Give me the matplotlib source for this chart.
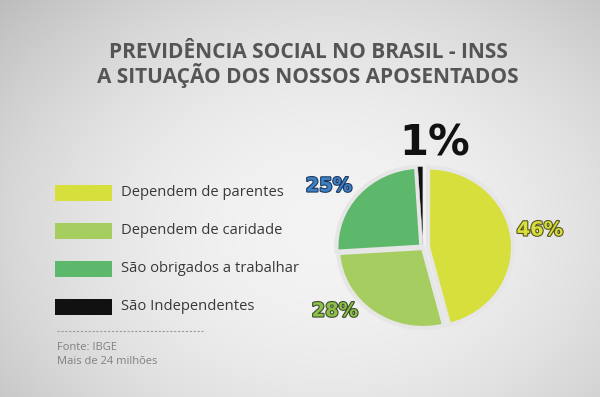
import numpy as np
import matplotlib
matplotlib.use("Agg")
import matplotlib.pyplot as plt
import matplotlib.patheffects as pe
from matplotlib.patches import Rectangle

# ---- data ----
title_lines = ["PREVIDÊNCIA SOCIAL NO BRASIL - INSS", "A SITUAÇÃO DOS NOSSOS APOSENTADOS"]
categories = ["Dependem de parentes", "Dependem de caridade", "São obrigados a trabalhar", "São Independentes"]
values = [46, 28, 25, 1]
pct_labels = ["46%", "28%", "25%", "1%"]
colors = ["#d6df3b", "#a5cd60", "#5eb86b", "#111111"]
footer = ["Fonte: IBGE", "Mais de 24 milhões"]

W, H = 600, 397
fig = plt.figure(figsize=(W / 100, H / 100), dpi=100)

# background axes in pixel coordinates
bg = fig.add_axes([0, 0, 1, 1])
bg.set_xlim(0, W)
bg.set_ylim(H, 0)
bg.axis("off")
yy, xx = np.mgrid[0:H, 0:W]
d = np.sqrt(((xx - 330) / 430) ** 2 + ((yy - 230) / 330) ** 2)
val = 0.955 - 0.20 * np.clip(d, 0, 1.3) ** 2
img = np.dstack([val, val, val])
bg.imshow(img, extent=(0, W, H, 0), aspect="auto", zorder=0)

# title
for i, t in enumerate(title_lines):
    bg.text(308, 53 + i * 22, t, ha="center", va="center", fontsize=15,
            fontweight="bold", family="Open Sans", color="#555555", zorder=2)

# legend
rows_y = [193, 231, 269, 307]
for c, lab, y in zip(colors, categories, rows_y):
    bg.add_patch(Rectangle((55, y - 8), 57, 16, facecolor=c, edgecolor="none", zorder=2))
    bg.text(121, y, lab, ha="left", va="center", fontsize=10.6, family="Open Sans",
            color="#383838", zorder=2)

# footer
bg.plot([57, 203], [331, 331], color="#9a9a9a", lw=0.8, ls=(0, (2, 1.5)), zorder=2)
bg.text(57, 348, footer[0], ha="left", va="center", fontsize=8, family="Open Sans",
        color="#808080", zorder=2)
bg.text(57, 362, footer[1], ha="left", va="center", fontsize=8, family="Open Sans",
        color="#808080", zorder=2)

# pie axes: ellipse rx=85, ry=80 px centered at (423, 248)
cx, cy, rx, ry = 423, 248, 85, 80
lim = 1.3
aw, ah = 2 * lim * rx, 2 * lim * ry
pax = fig.add_axes([(cx - aw / 2) / W, (H - cy - ah / 2) / H, aw / W, ah / H])
bgcol = "#e6e6e6"
wedges, _ = pax.pie(values, colors=colors, startangle=90, counterclock=False,
                    explode=[0.06, 0.0, 0.025, 0.02],
                    wedgeprops=dict(edgecolor=bgcol, linewidth=3.0))
wedges[3].set_linewidth(0.4)
wedges[3].set_zorder(5)
pax.set_aspect("auto")
pax.set_xlim(-lim, lim)
pax.set_ylim(-lim, lim)
pax.axis("off")

# percentage labels
label_pos = [(540, 230), (335, 311), (329, 186), (435, 144)]
label_fill = ["#d6df3b", "#8dbf4b", "#3d80c4", "#111111"]
label_edge = ["#55551e", "#3e4e2c", "#1e3a60", "#111111"]
label_size = [14, 14, 14, 30]
for txt, (x, y), f, e, s in zip(pct_labels, label_pos, label_fill, label_edge, label_size):
    t = bg.text(x, y, txt, ha="center", va="center", fontsize=s, fontweight="bold",
                family="DejaVu Sans", color=f, zorder=5)
    if txt != "1%":
        t.set_path_effects([pe.withStroke(linewidth=1.6, foreground=e)])

fig.savefig("out.png", dpi=100)
